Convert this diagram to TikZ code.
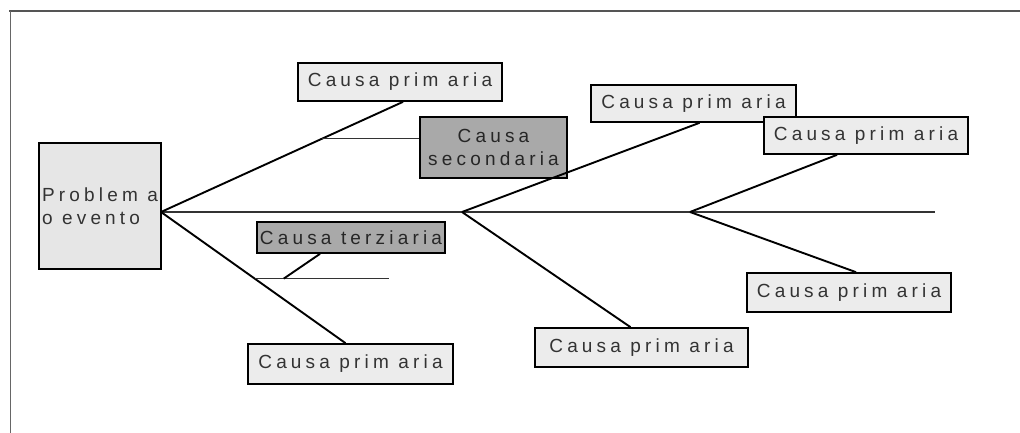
\documentclass[tikz,border=0pt]{standalone}
\usepackage{fontspec}
\usetikzlibrary{calc,shadows}
\newfontfamily\labfont[LetterSpace=22]{Liberation Sans}
\definecolor{lightbox}{HTML}{ECECEC}
\definecolor{probbox}{HTML}{E6E6E6}
\definecolor{darkbox}{HTML}{A9A9A9}
\definecolor{labtext}{HTML}{333333}
\definecolor{framecol}{HTML}{555555}
\begin{document}
\begin{tikzpicture}[x=1pt,y=-1pt,
  boxbase/.style={draw=black, line width=1.7pt, inner sep=0pt, font=\labfont\fontsize{19}{23}\selectfont,
    drop shadow={shadow xshift=1.3pt, shadow yshift=-1.3pt, fill=black, opacity=1}},
  primbox/.style={boxbase, fill=lightbox, text=labtext, minimum width=204pt, minimum height=38pt},
  darkbx/.style={boxbase, fill=darkbox, text=black!85},
  bone/.style={line width=1.9pt, black},
  thinline/.style={line width=1.2pt, black!80}]
\useasboundingbox (0,0) rectangle (1020,433);
% frame
\draw[framecol, line width=2pt] (9,11) -- (1020,11);
\draw[black!60, line width=1pt] (10,11) -- (10,433);
% nodes
\node[boxbase, fill=probbox, text=labtext, minimum width=122pt, minimum height=126pt, align=left] (prob) at (100,206) {Problem a\\o evento};
\node[primbox] (p1) at (400,82) {Causa prim aria};
\node[darkbx, minimum width=147pt, minimum height=61pt, align=center] (sec) at (493.5,147.5) {Causa\\secondaria};
\node[primbox, minimum width=205pt, minimum height=37pt] (p2) at (693.5,103.5) {Causa prim aria};
\node[primbox, minimum height=37pt] (p3) at (866,135.5) {Causa prim aria};
\node[primbox, minimum height=39pt] (p4) at (849,292.5) {Causa prim aria};
\node[primbox, minimum width=213pt, minimum height=39pt] (p5) at (641.5,347.5) {Causa prim aria};
\node[primbox, minimum width=205pt, minimum height=40pt] (p6) at (350.5,364) {Causa prim aria};
\node[darkbx, minimum width=188pt, minimum height=31pt] (ter) at (351,237.5) {Causa terziaria};
% spine
\coordinate (o1) at (161,212);
\coordinate (j2) at (462,212);
\coordinate (j3) at (690,212);
\coordinate (tail) at (935,212);
\draw[thinline] (o1) -- (tail);
% primary bones
\draw[bone] (o1) -- ($(p1.south)+(3,0)$);
\draw[bone] (o1) -- ($(p6.north)+(-5,0)$);
\draw[bone] (j2) -- ($(p2.south)+(6,0)$);
\draw[bone] (j2) -- ($(p5.north)+(-11,0)$);
\draw[bone] (j3) -- ($(p3.south)+(-29,0)$);
\draw[bone] (j3) -- ($(p4.north)+(7,0)$);
% secondary
\coordinate (s1) at ($(o1)!0.664!($(p1.south)+(3,0)$)$);
\draw[thinline] (s1) -- (s1 -| sec.west);
% tertiary
\coordinate (t1) at ($(o1)!0.508!($(p6.north)+(-5,0)$)$);
\coordinate (t2) at ($(t1)+(134,0)$);
\draw[thinline] (t1) -- (t2);
\coordinate (t3) at ($(t1)+(29,0)$);
\draw[bone] (t3) -- ($(ter.south)+(-31,0)$);
\end{tikzpicture}
\end{document}
